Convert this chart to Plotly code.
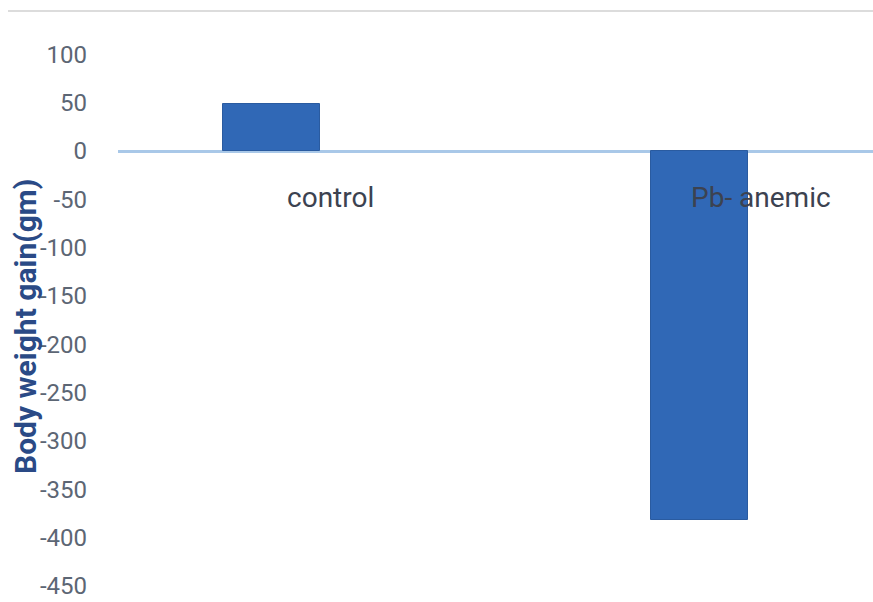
import plotly.graph_objects as go

categories = ["control", "Pb- anemic"]
values = [49, -382]
tick_vals = [100, 50, 0, -50, -100, -150, -200, -250, -300, -350, -400, -450]
y_title = "Body weight gain(gm)"

W, H = 873, 602
L, R, T, B = 118, 0, 40, 2
pw = W - L - R
ph = H - T - B

# pixel calibration
px_per_unit_x = 428.0
cat0_px = 271.5
zero_px = 151.0
px_per_unit_y = 48.3 / 50

x0 = -(cat0_px - L) / px_per_unit_x
x1 = x0 + pw / px_per_unit_x
ytop = (zero_px - T) / px_per_unit_y
ybot = -(T + ph - zero_px) / px_per_unit_y

fig = go.Figure()
fig.add_trace(go.Bar(
    x=[0, 1], y=values,
    width=97 / px_per_unit_x,
    marker=dict(color="#3068B6", line=dict(color="#2A5BA0", width=1)),
    showlegend=False,
))

for i, c in enumerate(categories):
    fig.add_annotation(
        x=i, y=-48, xref="x", yref="y", text=c, showarrow=False,
        xshift=59 if i == 0 else 61, xanchor="center", yanchor="middle",
        font=dict(family="Roboto, Open Sans, sans-serif", size=28, color="#3C4250"),
    )

fig.add_annotation(
    x=(25 - L) / pw, y=(T + ph - 327) / ph, xref="paper", yref="paper",
    text="<b>" + y_title + "</b>", textangle=-90, showarrow=False,
    xanchor="center", yanchor="middle",
    font=dict(family="Roboto, Open Sans, sans-serif", size=30, color="#2A4A86"),
)

fig.add_shape(type="line", xref="paper", yref="paper",
              x0=(8 - L) / pw, x1=1, y0=(T + ph - 11) / ph, y1=(T + ph - 11) / ph,
              line=dict(color="#DCDCDC", width=2))

fig.update_layout(
    width=W, height=H,
    margin=dict(l=L, r=R, t=T, b=B, autoexpand=False),
    plot_bgcolor="white", paper_bgcolor="white",
    bargap=0,
    xaxis=dict(range=[x0, x1], showticklabels=False, showgrid=False,
               zeroline=False, showline=False, fixedrange=True),
    yaxis=dict(range=[ybot, ytop], tickvals=tick_vals,
               ticktext=[str(v) for v in tick_vals],
               showgrid=False, zeroline=True, zerolinecolor="#A9C8E8", zerolinewidth=3,
               showline=False, ticks="", ticklabelstandoff=30, ticklabeloverflow="allow",
               tickfont=dict(family="Roboto, Open Sans, sans-serif", size=24, color="#5C6674")),
)

fig.write_html("out.html")
